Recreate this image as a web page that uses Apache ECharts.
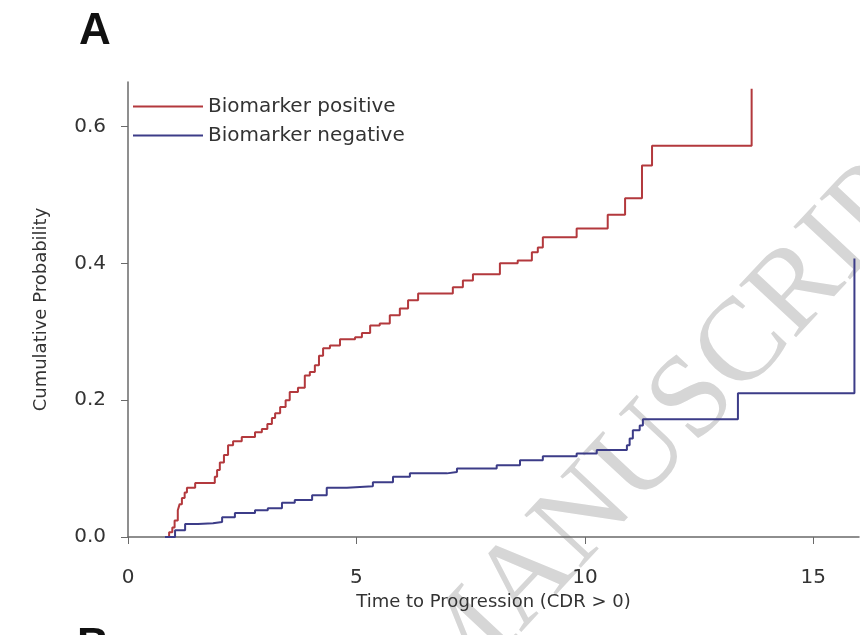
<!DOCTYPE html>
<html>
<head>
<meta charset="utf-8">
<script src="https://cdn.jsdelivr.net/npm/echarts@6.0.0/dist/echarts.min.js"></script>
<style>
  html, body { margin: 0; padding: 0; background: #fff; }
  #chart { width: 860px; height: 635px; }
</style>
</head>
<body>
<div id="chart"></div>
<script>
// groups (legend)
var groups = ['Biomarker positive', 'Biomarker negative']

// biomarker positive: event time / cumulative probability after the jump
var posTime = [0.81, 0.9, 0.97, 1.02, 1.09, 1.13, 1.18, 1.24, 1.29, 1.47, 1.9, 1.95, 2.01, 2.1, 2.19, 2.3, 2.49, 2.78, 2.93, 3.05, 3.15, 3.22, 3.33, 3.45, 3.54, 3.72, 3.87, 3.98, 4.09, 4.18, 4.27, 4.42, 4.64, 4.97, 5.12, 5.3, 5.51, 5.73, 5.95, 6.13, 6.35, 7.11, 7.33, 7.55, 8.14, 8.53, 8.84, 8.97, 9.08, 9.82, 10.5, 10.88, 11.25, 11.47, 13.65]
var posProb = [0, 0.007, 0.014, 0.024, 0.039, 0.048, 0.057, 0.065, 0.072, 0.079, 0.088, 0.098, 0.109, 0.12, 0.134, 0.14, 0.146, 0.153, 0.158, 0.165, 0.174, 0.181, 0.19, 0.2, 0.212, 0.218, 0.236, 0.241, 0.251, 0.265, 0.276, 0.28, 0.289, 0.292, 0.298, 0.309, 0.312, 0.324, 0.334, 0.346, 0.356, 0.365, 0.375, 0.384, 0.4, 0.404, 0.416, 0.423, 0.438, 0.451, 0.471, 0.495, 0.543, 0.572, 0.655]

// biomarker negative
var negTime = [0.81, 1.03, 1.25, 1.53, 1.86, 2.06, 2.34, 2.78, 3.06, 3.37, 3.65, 4.03, 4.35, 4.79, 5.36, 5.8, 6.17, 6.98, 7.2, 8.07, 8.58, 9.08, 9.82, 10.26, 10.92, 10.98, 11.05, 11.2, 11.27, 13.35, 15.9]
var negProb = [0, 0.01, 0.019, 0.02, 0.022, 0.029, 0.035, 0.039, 0.042, 0.05, 0.054, 0.061, 0.072, 0.074, 0.08, 0.088, 0.093, 0.095, 0.1, 0.105, 0.112, 0.118, 0.122, 0.127, 0.134, 0.144, 0.156, 0.163, 0.172, 0.21, 0.407]

var xTicks = [0, 5, 10, 15]
var yTicks = [0, 0.2, 0.4, 0.6]

var font = 'DejaVu Sans'
var axisGray = '#6a6a6a'

function pairs(t, p) {
    var out = []
    for (var i = 0; i < t.length; i++) {
        out.push([t[i], p[i]])
    }
    return out
}

var myChart = echarts.init(document.getElementById('chart'))

var option = {
    backgroundColor: '#fff',
    animation: false,
    grid: { left: 128, right: 1, top: 82, bottom: 98 },
    legend: {
        orient: 'vertical',
        left: 133,
        top: 95,
        padding: 0,
        icon: 'rect',
        itemGap: 6,
        itemWidth: 70,
        itemHeight: 2,
        textStyle: { fontFamily: font, fontSize: 20, color: '#333', lineHeight: 23 },
        data: groups
    },
    xAxis: {
        type: 'value',
        min: 0,
        max: 16,
        offset: 2,
        name: 'Time to Progression (CDR > 0)',
        nameLocation: 'middle',
        nameGap: 48,
        nameTextStyle: { fontFamily: font, fontSize: 18, color: '#333' },
        axisLine: { show: true, lineStyle: { color: axisGray, width: 1.5 } },
        axisTick: { show: true, length: 7, customValues: xTicks, lineStyle: { color: axisGray } },
        axisLabel: { customValues: xTicks, margin: 29, fontFamily: font, fontSize: 20, color: '#333' },
        splitLine: { show: false }
    },
    yAxis: {
        type: 'value',
        min: 0,
        max: 0.665,
        offset: 4,
        name: 'Cumulative Probability',
        nameLocation: 'middle',
        nameGap: 74,
        nameTextStyle: { fontFamily: font, fontSize: 18, color: '#333' },
        axisLine: { show: true, lineStyle: { color: axisGray, width: 1.5 } },
        axisTick: { show: true, length: 7, customValues: yTicks, lineStyle: { color: axisGray } },
        axisLabel: {
            customValues: yTicks,
            margin: 18,
            fontFamily: font, fontSize: 20, color: '#333',
            formatter: function (v) { return v.toFixed(1) }
        },
        splitLine: { show: false }
    },
    graphic: [
        {
            type: 'text', left: 79, top: 10,
            style: { text: 'A', font: 'bold 44px "Liberation Sans"', fill: '#111' }
        },
        {
            type: 'text', left: 77, top: 625,
            style: { text: 'B', font: 'bold 44px "Liberation Sans"', fill: '#111' }
        },
        {
            // watermark
            type: 'text', x: 945, y: 132, rotation: 47 * Math.PI / 180, z: -10,
            style: {
                text: 'ACCEPTED MANUSCRIPT',
                font: '118px "Liberation Serif"',
                fill: '#d6d6d6',
                align: 'right',
                verticalAlign: 'middle'
            }
        }
    ],
    series: [
        {
            name: groups[0],
            type: 'line',
            step: 'end',
            symbol: 'none',
            color: '#b3393d',
            lineStyle: { width: 2, color: '#b3393d' },
            data: pairs(posTime, posProb)
        },
        {
            name: groups[1],
            type: 'line',
            step: 'end',
            symbol: 'none',
            color: '#3c3c88',
            lineStyle: { width: 2, color: '#3c3c88' },
            data: pairs(negTime, negProb)
        }
    ]
}

myChart.setOption(option)
</script>
</body>
</html>
